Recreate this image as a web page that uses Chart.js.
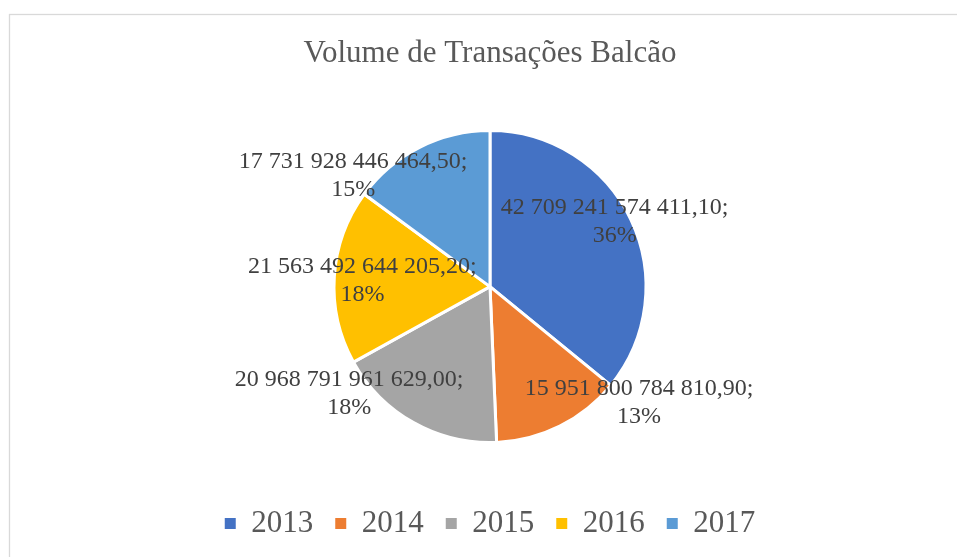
<!DOCTYPE html>
<html>
<head>
<meta charset="utf-8">
<script src="https://cdn.jsdelivr.net/npm/chart.js@4/dist/chart.umd.min.js"></script>
<style>
  html, body { margin: 0; padding: 0; background: #ffffff; }
  canvas { display: block; }
</style>
</head>
<body>
<canvas id="c" width="957" height="557"></canvas>
<script>
// ---- data ----
const years = ['2013', '2014', '2015', '2016', '2017'];
const volumes = [42709241574411.10, 15951800784810.90, 20968791961629.00, 21563492644205.20, 17731928446464.50];
const chartTitle = 'Volume de Transações Balcão';

// ---- styling (kept separate from data) ----
const sliceColors = ['#4472C4', '#ED7D31', '#A5A5A5', '#FFC000', '#5B9BD5'];
// label anchor offsets, in units of the pie's radius, relative to pie centre
const labelOffsets = [[0.799, -0.416], [0.955, 0.747], [-0.903, 0.688], [-0.818, -0.039], [-0.877, -0.708]];
const serif = "'Liberation Serif', 'Times New Roman', serif";

function fmtValue(v) {
  const parts = v.toFixed(2).split('.');
  const intPart = parts[0].replace(/\B(?=(\d{3})+(?!\d))/g, ' ');
  return intPart + ',' + parts[1];
}

const framePlugin = {
  id: 'frame',
  beforeDraw(chart) {
    const ctx = chart.ctx;
    ctx.save();
    ctx.fillStyle = '#ffffff';
    ctx.fillRect(0, 0, chart.width, chart.height);
    ctx.strokeStyle = '#d9d9d9';
    ctx.lineWidth = 1.3;
    ctx.strokeRect(9.5, 14.5, chart.width + 20, chart.height + 20);
    ctx.restore();
  }
};

const labelPlugin = {
  id: 'sliceLabels',
  afterDatasetsDraw(chart) {
    const ctx = chart.ctx;
    const meta = chart.getDatasetMeta(0);
    const data = chart.data.datasets[0].data;
    const total = data.reduce((a, b) => a + b, 0);
    ctx.save();
    ctx.font = '24px ' + serif;
    ctx.fillStyle = '#404040';
    ctx.textAlign = 'center';
    ctx.textBaseline = 'middle';
    meta.data.forEach((arc, i) => {
      const p = arc.getProps(['x', 'y', 'outerRadius'], true);
      const off = labelOffsets[i];
      const cx = p.x + off[0] * p.outerRadius;
      const cy = p.y + off[1] * p.outerRadius;
      const pct = Math.round(data[i] / total * 100) + '%';
      ctx.fillText(fmtValue(data[i]) + ';', cx, cy - 14);
      ctx.fillText(pct, cx, cy + 14);
    });
    ctx.restore();
  }
};

new Chart(document.getElementById('c'), {
  type: 'pie',
  data: {
    labels: years,
    datasets: [{
      data: volumes,
      backgroundColor: sliceColors,
      borderColor: '#ffffff',
      borderWidth: 3,
      radius: 156
    }]
  },
  options: {
    responsive: false,
    animation: false,
    layout: { padding: { left: 23, right: 0, top: 0, bottom: 8 } },
    plugins: {
      tooltip: { enabled: false },
      title: {
        display: true,
        text: chartTitle,
        color: '#595959',
        font: { family: serif, size: 31, weight: 'normal' },
        padding: { top: 35, bottom: 15 }
      },
      legend: {
        display: true,
        position: 'bottom',
        labels: {
          color: '#595959',
          font: { family: serif, size: 31 },
          boxWidth: 11,
          boxHeight: 11,
          padding: 22,
          generateLabels(chart) {
            const items = Chart.overrides.pie.plugins.legend.labels.generateLabels(chart);
            items.forEach(it => { it.lineWidth = 0; it.strokeStyle = it.fillStyle; });
            return items;
          }
        }
      }
    }
  },
  plugins: [framePlugin, labelPlugin]
});
</script>
</body>
</html>
